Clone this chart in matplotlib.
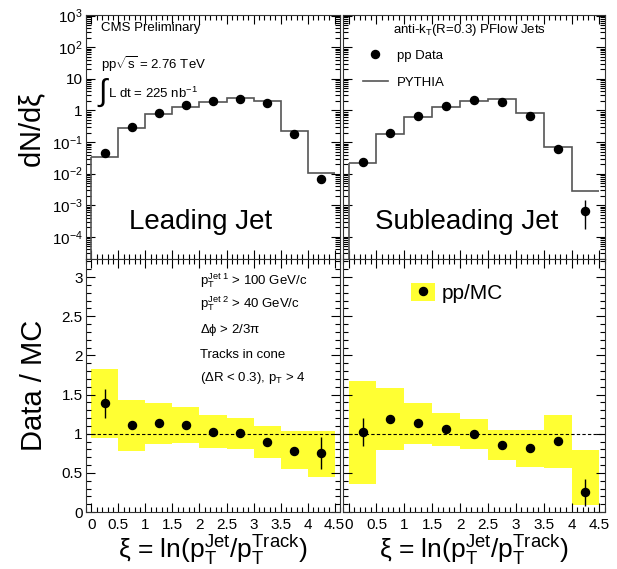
import numpy as np
import matplotlib
matplotlib.use("Agg")
from matplotlib import pyplot as plt
from matplotlib.ticker import MultipleLocator, LogLocator, FixedLocator, FuncFormatter, NullFormatter
from matplotlib.patches import Patch
from matplotlib.lines import Line2D

plt.rcParams["font.family"] = ["Liberation Sans", "DejaVu Sans"]
plt.rcParams["mathtext.fontset"] = "custom"
plt.rcParams["mathtext.rm"] = "Liberation Sans"
plt.rcParams["mathtext.it"] = "Liberation Sans:italic"
plt.rcParams["mathtext.default"] = "regular"

# ---------------------------------------------------------------------------
# data
# ---------------------------------------------------------------------------
xi_edges = [0.0, 0.5, 1.0, 1.5, 2.0, 2.5, 3.0, 3.5, 4.0, 4.5]
xi_centers = [0.25, 0.75, 1.25, 1.75, 2.25, 2.75, 3.25, 3.75, 4.25]

lead_data = [0.046, 0.31, 0.85, 1.44, 1.98, 2.34, 1.75, 0.18, 0.0069]
lead_mc = [0.034, 0.28, 0.77, 1.28, 1.88, 2.46, 2.02, 0.23, 0.0102]

sub_data = [0.023, 0.20, 0.68, 1.34, 2.07, 1.84, 0.68, 0.062, 0.00066]
sub_data_lo = [0.0, 0.0, 0.0, 0.0, 0.0, 0.0, 0.0, 0.0, 0.00048]
sub_data_hi = [0.0, 0.0, 0.0, 0.0, 0.0, 0.0, 0.0, 0.0, 0.00079]
sub_mc = [0.022, 0.18, 0.63, 1.31, 2.02, 2.29, 0.86, 0.07, 0.0028]

lead_ratio = [1.386, 1.107, 1.132, 1.115, 1.022, 1.005, 0.896, 0.777, 0.752]
lead_ratio_err = [0.185, 0.03, 0.02, 0.02, 0.02, 0.02, 0.02, 0.03, 0.20]
lead_sys_lo = [0.95, 0.773, 0.866, 0.879, 0.811, 0.803, 0.684, 0.549, 0.448]
lead_sys_hi = [1.83, 1.436, 1.394, 1.335, 1.234, 1.20, 1.094, 1.035, 1.035]

sub_ratio = [1.022, 1.187, 1.136, 1.056, 1.001, 0.858, 0.82, 0.904, 0.249]
sub_ratio_err = [0.175, 0.05, 0.03, 0.02, 0.02, 0.02, 0.02, 0.055, 0.175]
sub_sys_lo = [0.359, 0.79, 0.866, 0.837, 0.803, 0.663, 0.578, 0.561, 0.085]
sub_sys_hi = [1.677, 1.584, 1.394, 1.267, 1.19, 1.044, 1.044, 1.238, 0.786]

YELLOW = "#ffff33"
HIST_COLOR = "#555555"
TICK_FS = 11
SMALL_FS = 9.5

# ---------------------------------------------------------------------------
# layout (pixel based, 617x569)
# ---------------------------------------------------------------------------
W, H = 617, 569
fig = plt.figure(figsize=(W / 100, H / 100), dpi=100)
fig.set_facecolor("white")


def px_axes(x0, x1, y_top, y_bot):
    return fig.add_axes([x0 / W, (H - y_bot) / H, (x1 - x0) / W, (y_bot - y_top) / H])


ax_tl = px_axes(86, 340, 15, 259)
ax_tr = px_axes(343, 605, 15, 259)
ax_bl = px_axes(86, 340, 259, 512)
ax_br = px_axes(343, 605, 259, 512)


def log_fmt(v, pos):
    e = int(round(np.log10(v)))
    if e == 0:
        return "1"
    if e == 1:
        return "10"
    return r"$10^{%d}$" % e


def lin_fmt(v, pos):
    return ("%.1f" % v).rstrip("0").rstrip(".")


def style(ax):
    ax.tick_params(which="both", direction="in", top=True, right=True,
                   labelsize=TICK_FS, width=0.8)
    ax.tick_params(which="major", length=6.5, pad=2.5)
    ax.tick_params(which="minor", length=3.3)
    ax.set_xlim(-0.1, 4.6)
    ax.xaxis.set_major_locator(MultipleLocator(0.5))
    ax.xaxis.set_minor_locator(MultipleLocator(0.1))
    for s in ax.spines.values():
        s.set_linewidth(0.8)
        s.set_color("#333333")


# ---------------------------------------------------------------------------
# top panels: dN/dxi
# ---------------------------------------------------------------------------
YMIN_LOG = 2e-5
for ax, data, mc in ((ax_tl, lead_data, lead_mc), (ax_tr, sub_data, sub_mc)):
    style(ax)
    ax.set_yscale("log")
    ax.set_ylim(YMIN_LOG, 1.05e3)
    ax.yaxis.set_major_locator(FixedLocator([1e-4, 1e-3, 1e-2, 1e-1, 1, 10, 1e2, 1e3]))
    ax.yaxis.set_minor_locator(LogLocator(base=10, subs=np.arange(2, 10) * 1.0, numticks=20))
    ax.yaxis.set_minor_formatter(NullFormatter())
    ax.xaxis.set_major_formatter(NullFormatter())
    ax.stairs(mc, xi_edges, baseline=None, color=HIST_COLOR, lw=1.2)
    ax.vlines(xi_edges[0], YMIN_LOG, mc[0], color=HIST_COLOR, lw=1.2)

ax_tl.errorbar(xi_centers, lead_data, fmt="o", color="black", ms=5.8, lw=1)
ax_tr.errorbar(xi_centers, sub_data, yerr=[sub_data_lo, sub_data_hi], fmt="o",
               color="black", ms=5.8, lw=1)

ax_tl.yaxis.set_major_formatter(FuncFormatter(log_fmt))
ax_tr.yaxis.set_major_formatter(NullFormatter())
ax_tl.set_ylabel(r"dN/d$\xi$", fontsize=21)
ax_tl.yaxis.set_label_coords(-0.15, 0.53)

ax_tl.text(0.45, 0.15, "Leading Jet", transform=ax_tl.transAxes, fontsize=20,
           ha="center", va="center")
ax_tr.text(0.47, 0.15, "Subleading Jet", transform=ax_tr.transAxes, fontsize=20,
           ha="center", va="center")

ax_tl.text(0.06, 0.945, "CMS Preliminary", transform=ax_tl.transAxes, fontsize=SMALL_FS,
           va="center")
ax_tl.text(0.06, 0.80, r"pp$\sqrt{s}$ = 2.76 TeV", transform=ax_tl.transAxes,
           fontsize=SMALL_FS, va="center")
ax_tl.text(0.045, 0.68, r"$\int$", transform=ax_tl.transAxes, fontsize=22, va="center")
ax_tl.text(0.088, 0.68, r"L dt = 225 nb$^{-1}$", transform=ax_tl.transAxes,
           fontsize=SMALL_FS, va="center")

ax_tr.text(0.19, 0.94, r"anti-k$_{T}$(R=0.3) PFlow Jets", transform=ax_tr.transAxes,
           fontsize=SMALL_FS, va="center")
h_data = Line2D([], [], marker="o", ls="none", color="black", ms=5.8)
h_mc = Line2D([], [], color=HIST_COLOR, lw=1.2)
ax_tr.legend([h_data, h_mc], ["pp Data", "PYTHIA"], loc="upper left",
             bbox_to_anchor=(0.05, 0.885), frameon=False, fontsize=SMALL_FS,
             borderpad=0, handlelength=1.9, handletextpad=0.68, labelspacing=1.1)

# ---------------------------------------------------------------------------
# bottom panels: Data / MC
# ---------------------------------------------------------------------------
for ax, ratio, err, lo, hi in ((ax_bl, lead_ratio, lead_ratio_err, lead_sys_lo, lead_sys_hi),
                               (ax_br, sub_ratio, sub_ratio_err, sub_sys_lo, sub_sys_hi)):
    style(ax)
    ax.set_ylim(0, 3.23)
    ax.yaxis.set_major_locator(MultipleLocator(0.5))
    ax.yaxis.set_minor_locator(MultipleLocator(0.1))
    ax.xaxis.set_major_formatter(FuncFormatter(lin_fmt))
    ax.tick_params(axis="x", pad=4)
    height = np.array(hi) - np.array(lo)
    ax.bar(xi_centers, height, bottom=lo, width=0.5, color=YELLOW, lw=0, zorder=1)
    ax.axhline(1, color="black", lw=0.8, ls=(0, (3, 2)), zorder=2)
    ax.errorbar(xi_centers, ratio, yerr=err, fmt="o", color="black", ms=5.8, lw=1,
                zorder=3)
    ax.set_xlabel(r"$\xi$ = ln(p$_{T}^{Jet}$/p$_{T}^{Track}$)", fontsize=19, labelpad=1)

ax_bl.yaxis.set_major_formatter(FuncFormatter(lin_fmt))
ax_br.yaxis.set_major_formatter(NullFormatter())
ax_bl.set_ylabel("Data / MC", fontsize=21)
ax_bl.yaxis.set_label_coords(-0.15, 0.5)

cuts = [r"p$_{T}^{Jet\ 1}$ > 100 GeV/c",
        r"p$_{T}^{Jet\ 2}$ > 40 GeV/c",
        r"$\Delta\phi$ > 2/3$\pi$",
        "Tracks in cone",
        r"($\Delta$R < 0.3), p$_{T}$ > 4"]
cut_y = [0.915, 0.825, 0.72, 0.62, 0.53]
for txt, yy in zip(cuts, cut_y):
    ax_bl.text(0.45, yy, txt, transform=ax_bl.transAxes, fontsize=SMALL_FS, va="center")

h_band = (Patch(facecolor=YELLOW, edgecolor="none"),
          Line2D([], [], marker="o", ls="none", color="black", ms=5.8))
ax_br.legend([h_band], ["pp/MC"], loc="upper left", bbox_to_anchor=(0.22, 0.945),
             frameon=False, fontsize=15, borderpad=0, handlelength=1.15,
             handleheight=0.9, handletextpad=0.3)

fig.savefig("out.png", dpi=100)
